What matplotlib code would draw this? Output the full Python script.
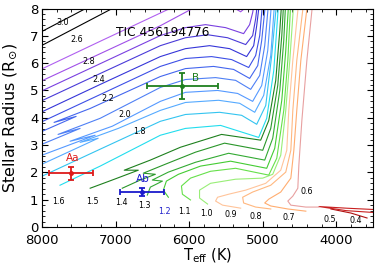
import matplotlib
matplotlib.use("Agg")
import matplotlib.pyplot as plt
from matplotlib.ticker import MultipleLocator

plt.rcParams['font.family'] = ['DejaVu Sans']
plt.rcParams['mathtext.fontset'] = 'dejavusans'

# evolutionary tracks: Teff (K) and radius (Rsun)
t_04 = [4072, 3799, 3581]
r_04 = [0.66, 0.51, 0.33]
t_05 = [3485, 3867, 4235, 3867, 3485]
r_05 = [0.64, 0.69, 0.75, 0.60, 0.53]
t_06 = [4317, 4399, 4467, 4508, 4522, 4590, 4658, 4617, 4413, 4235]
r_06 = [8.29, 6.10, 3.90, 2.26, 1.42, 1.13, 0.95, 0.80, 0.73, 0.73]
t_07 = [4386, 4481, 4536, 4576, 4617, 4754, 4917, 4972, 4890, 4658, 4413]
r_07 = [8.29, 6.10, 4.27, 2.81, 1.79, 1.28, 1.02, 0.88, 0.77, 0.66, 0.58]
t_08 = [4440, 4536, 4590, 4617, 4686, 4890, 5136, 5272, 5259, 5095, 4890]
r_08 = [8.29, 6.10, 4.27, 2.81, 2.01, 1.53, 1.28, 1.09, 0.88, 0.73, 0.66]
t_09 = [4508, 4590, 4645, 4672, 4754, 4958, 5231, 5463, 5613, 5640, 5545, 5299]
r_09 = [8.29, 6.10, 4.27, 2.81, 2.08, 1.60, 1.35, 1.20, 1.09, 0.95, 0.80, 0.69]
t_10 = [5749, 5858, 5858, 5709, 5368, 4999, 4863, 4754, 4686, 4631, 4576]
r_10 = [0.84, 1.06, 1.35, 1.60, 1.75, 1.79, 1.93, 2.63, 4.27, 6.10, 8.29]
t_11 = [5981, 6091, 6104, 5981, 5709, 5368, 4917, 4808, 4713, 4658, 4617]
r_11 = [0.99, 1.20, 1.50, 1.79, 2.04, 2.15, 1.90, 2.52, 4.27, 6.10, 8.29]
t_12 = [6282, 6350, 6309, 6145, 5845, 5436, 4945, 4836, 4740, 4686, 4645]
r_12 = [1.09, 1.35, 1.68, 1.93, 2.23, 2.41, 2.15, 2.88, 4.64, 6.46, 8.29]
t_13 = [6568, 6527, 6363, 6500, 6282, 5913, 5463, 4972, 4863, 4767, 4713, 4686]
r_13 = [1.17, 1.46, 1.68, 1.72, 2.01, 2.37, 2.70, 2.45, 3.25, 5.00, 6.83, 8.29]
t_14 = [6909, 6663, 6459, 6623, 6322, 5913, 5518, 4999, 4890, 4795, 4740, 4713]
r_14 = [1.42, 1.72, 1.93, 1.97, 2.30, 2.74, 3.07, 2.81, 3.61, 5.18, 7.01, 8.29]
t_15 = [7345, 7045, 6691, 6882, 6527, 6118, 5559, 5027, 4917, 4822, 4767, 4740]
r_15 = [1.42, 1.72, 2.08, 2.08, 2.45, 2.92, 3.39, 3.18, 3.90, 5.37, 7.19, 8.29]
t_16 = [7755, 7209, 6391, 6050, 5572, 5054, 4945, 4849, 4781]
r_16 = [1.53, 2.23, 3.36, 3.61, 3.72, 3.28, 3.98, 5.73, 8.29]
t_17 = [8000, 7209, 6391, 6050, 5586, 5286, 5081, 4958, 4877, 4808]
r_17 = [1.86, 2.85, 3.87, 4.12, 4.20, 4.09, 3.76, 4.45, 6.28, 8.29]
t_18 = [8000, 7236, 7482, 6963, 6391, 6050, 5600, 5313, 5108, 4986, 4890, 4836]
r_18 = [2.30, 3.25, 3.10, 3.61, 4.27, 4.56, 4.64, 4.53, 4.20, 4.82, 6.28, 8.29]
t_19 = [8000, 7277, 7618, 7045, 6391, 6050, 5613, 5340, 5136, 5013, 4931, 4877]
r_19 = [2.63, 3.36, 3.14, 3.69, 4.60, 4.93, 5.00, 4.89, 4.60, 5.18, 6.46, 8.29]
t_20 = [8000, 7482, 7782, 7209, 6391, 6050, 5640, 5368, 5163, 5040, 4972, 4917]
r_20 = [3.03, 3.61, 3.39, 3.98, 5.11, 5.40, 5.47, 5.37, 5.04, 5.55, 6.64, 8.29]
t_21 = [8000, 7536, 7836, 7345, 6391, 6050, 5668, 5395, 5177, 5067, 5013, 4958]
r_21 = [3.50, 4.05, 3.83, 4.34, 5.51, 5.80, 5.88, 5.77, 5.44, 5.91, 6.83, 8.29]
t_22 = [8164, 7209, 6391, 6050, 5695, 5422, 5190, 5095, 5040, 4999]
r_22 = [3.65, 4.85, 5.88, 6.17, 6.24, 6.13, 5.84, 6.28, 7.01, 8.29]
t_23 = [8164, 7209, 6391, 6050, 5722, 5449, 5218, 5122, 5081, 5040]
r_23 = [4.01, 5.22, 6.24, 6.53, 6.64, 6.53, 6.24, 6.64, 7.37, 8.29]
t_24 = [8164, 7209, 6391, 6050, 5749, 5477, 5231, 5136, 5095, 5067]
r_24 = [4.42, 5.62, 6.64, 6.93, 7.04, 6.93, 6.68, 7.01, 7.63, 8.29]
t_25 = [8164, 7209, 6391, 6050, 5777, 5504, 5259, 5177, 5136, 5108]
r_25 = [4.78, 5.98, 7.01, 7.30, 7.41, 7.30, 7.08, 7.41, 7.85, 8.29]
t_26 = [8164, 6391, 5981, 5681, 5436, 5299, 5204, 5149]
r_26 = [5.15, 7.37, 7.96, 8.21, 8.10, 7.88, 8.10, 8.47]
t_27 = [8164, 7209, 6118]
r_27 = [5.58, 6.80, 8.18]
t_28 = [8164, 6868]
r_28 = [6.42, 8.25]
t_30 = [8164, 7073]
r_30 = [6.93, 8.47]

track_t = [t_04, t_05, t_06, t_07, t_08, t_09, t_10, t_11, t_12, t_13, t_14, t_15,
           t_16, t_17, t_18, t_19, t_20, t_21, t_22, t_23, t_24, t_25, t_26, t_27,
           t_28, t_30]
track_r = [r_04, r_05, r_06, r_07, r_08, r_09, r_10, r_11, r_12, r_13, r_14, r_15,
           r_16, r_17, r_18, r_19, r_20, r_21, r_22, r_23, r_24, r_25, r_26, r_27,
           r_28, r_30]
track_colors = ['#b01010', '#c82020', '#e8a0a0', '#ffad70', '#ffb880', '#ffc49a',
                '#99ee77', '#66e04a', '#44cc33', '#33aa33', '#2a962a', '#1e801e',
                '#22ddee', '#33c4f0', '#55aaff', '#5599ff', '#4f80f5', '#4466ee',
                '#3d4fe6', '#3535d8', '#4a3ad8', '#7a40e0', '#a050e8', '#b060f0',
                'black', 'black']

# mass labels along the tracks
mass_labels = ['3.0', '2.6', '2.8', '2.4', '2.2', '2.0', '1.8',
               '1.6', '1.5', '1.4', '1.3', '1.2', '1.1', '1.0', '0.9', '0.8', '0.7',
               '0.6', '0.5', '0.4']
label_t = [7714, 7523, 7359, 7236, 7100, 6882, 6677,
           7782, 7318, 6923, 6609, 6336, 6063, 5763, 5436, 5095, 4645,
           4399, 4085, 3731]
label_r = [7.48, 6.86, 6.06, 5.40, 4.71, 4.12, 3.50,
           0.95, 0.95, 0.91, 0.77, 0.58, 0.55, 0.51, 0.47, 0.40, 0.36,
           1.31, 0.29, 0.22]

# the three stars
star_names = ['Aa', 'Ab', 'B']
star_teff = [7604, 6640, 6090]
star_teff_err = [300, 296, 480]
star_rad = [1.96, 1.29, 5.15]
star_rad_err = [0.25, 0.14, 0.48]
star_colors = ['#dd1a1a', '#1a1acc', '#1f7f1f']
star_label_t = [7581, 6627, 5913]
star_label_r = [2.52, 1.75, 5.44]

fig = plt.figure(figsize=(3.76, 2.66), dpi=100)
ax = fig.add_axes([0.1117, 0.1466, 0.8803, 0.8214])

for t, r, c in zip(track_t, track_r, track_colors):
    ax.plot(t, r, color=c, lw=0.8)

for lab, x, y in zip(mass_labels, label_t, label_r):
    c = '#2222cc' if lab == '1.2' else 'black'
    ax.text(x, y, lab, fontsize=5.8, color=c, ha='center', va='center')

for i in range(len(star_names)):
    ax.errorbar([star_teff[i]], [star_rad[i]], xerr=star_teff_err[i], yerr=star_rad_err[i],
                fmt='o', color=star_colors[i], ms=2.5, capsize=2.5, elinewidth=1.3,
                capthick=1.3)
    ax.text(star_label_t[i], star_label_r[i], star_names[i], color=star_colors[i],
            fontsize=7.5, ha='center', va='center')

ax.text(6363, 7.12, 'TIC 456194776', fontsize=8.8, ha='center', va='center')

ax.set_xlim(8000, 3500)
ax.set_ylim(0, 8)
ax.xaxis.set_major_locator(MultipleLocator(1000))
ax.xaxis.set_minor_locator(MultipleLocator(200))
ax.yaxis.set_major_locator(MultipleLocator(1))
ax.yaxis.set_minor_locator(MultipleLocator(0.2))
ax.tick_params(which='both', direction='in', top=True, right=True)
ax.tick_params(which='major', length=4, width=0.8, labelsize=9.5, pad=2.5)
ax.tick_params(axis='x', which='major', pad=5)
ax.tick_params(which='minor', length=2, width=0.6)

ax.set_xlabel(r'T$_{\rm eff}$ (K)', fontsize=10.5)
ax.set_ylabel(r'Stellar Radius (R$_{\odot}$)', fontsize=11.5)
ax.xaxis.set_label_coords(0.5, -0.088)
ax.yaxis.set_label_coords(-0.07, 0.5)

fig.savefig('out.png', dpi=100)
